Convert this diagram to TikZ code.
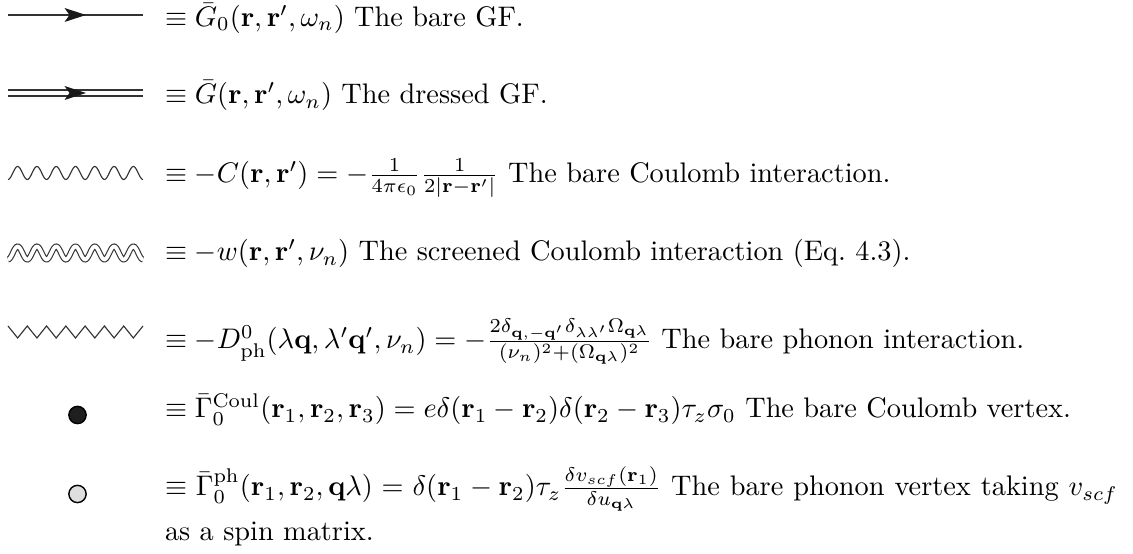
\documentclass[tikz,border=0pt]{standalone}
\usetikzlibrary{arrows.meta}
\begin{document}
\begin{tikzpicture}[x=0.35333pt, y=-0.35333pt,
  lbl/.style={anchor=base west, inner sep=0pt, outer sep=0pt},
  prop/.style={line width=0.4pt, draw=black!80},
  dprop/.style={line width=0.4pt, draw=black!80, double, double distance=1.75pt},
  arrowhead/.style={fill=black!90},
  vtx/.style={circle, draw, line width=0.5pt, inner sep=0pt, minimum size=6.1pt}
]
\useasboundingbox (0,0) rectangle (1133,554);

% row 1: bare GF
\coordinate (a1) at (8,15);
\coordinate (b1) at (143,15);
\draw[prop] (a1) -- (b1);
\fill[arrowhead, shift={(a1)}] (78,0) -- (56.5,-7) -- (61.5,0) -- (56.5,7) -- cycle;
\node[lbl] (t1) at (165,26.5) {$\equiv \bar{G}_0(\mathbf{r},\mathbf{r}',\omega_n)$ The bare GF.};

% row 2: dressed GF
\coordinate (a2) at (8,93);
\coordinate (b2) at (143,93);
\draw[dprop] (a2) -- (b2);
\fill[arrowhead, shift={(a2)}] (78,0) -- (56.5,-7) -- (61.5,0) -- (56.5,7) -- cycle;
\node[lbl] (t2) at (165,104) {$\equiv \bar{G}(\mathbf{r},\mathbf{r}',\omega_n)$ The dressed GF.};

% row 3: bare Coulomb
\draw[prop, domain=8:143, samples=160, smooth] plot (\x, {173 + 6.5*cos(18.6667*(\x-8))});
\node[lbl] (t3) at (165,183) {$\equiv -C(\mathbf{r},\mathbf{r}') = -\frac{1}{4\pi\epsilon_0}\frac{1}{2|\mathbf{r}-\mathbf{r}'|}$ The bare Coulomb interaction.};

% row 4: screened Coulomb
\draw[dprop, double distance=1.3pt, domain=8:143, samples=160, smooth] plot (\x, {253 + 6.5*cos(18.6667*(\x-8))});
\node[lbl] (t4) at (165,261) {$\equiv -w(\mathbf{r},\mathbf{r}',\nu_n)$ The screened Coulomb interaction (Eq.~4.3).};

% row 5: bare phonon
\draw[prop, line join=miter] (8,326) -- (17.64,338) -- (27.29,326) -- (36.93,338) -- (46.57,326)
  -- (56.21,338) -- (65.86,326) -- (75.5,338) -- (85.14,326) -- (94.79,338) -- (104.43,326)
  -- (114.07,338) -- (123.71,326) -- (133.36,338) -- (143,326);
\node[lbl] (t5) at (165,349) {$\equiv -D^0_{\mathrm{ph}}(\lambda\mathbf{q},\lambda'\mathbf{q}',\nu_n) = -\frac{2\delta_{\mathbf{q},-\mathbf{q}'}\delta_{\lambda\lambda'}\Omega_{\mathbf{q}\lambda}}{(\nu_n)^2+(\Omega_{\mathbf{q}\lambda})^2}$ The bare phonon interaction.};

% row 6: Coulomb vertex
\node[vtx, fill=black!88] (d1) at (77.5,415) {};
\node[lbl] (t6) at (165,418) {$\equiv \bar{\Gamma}^{\mathrm{Coul}}_0(\mathbf{r}_1,\mathbf{r}_2,\mathbf{r}_3) = e\delta(\mathbf{r}_1-\mathbf{r}_2)\delta(\mathbf{r}_2-\mathbf{r}_3)\tau_z\sigma_0$ The bare Coulomb vertex.};

% row 7: phonon vertex
\node[vtx, fill=black!13] (d2) at (77.5,494) {};
\node[lbl] (t7) at (165,496) {\makebox[336.7pt][s]{$\equiv \bar{\Gamma}^{\mathrm{ph}}_0(\mathbf{r}_1,\mathbf{r}_2,\mathbf{q}\lambda) = \delta(\mathbf{r}_1-\mathbf{r}_2)\tau_z\frac{\delta v_{scf}(\mathbf{r}_1)}{\delta u_{\mathbf{q}\lambda}}$ The bare phonon vertex taking $v_{scf}$}};
\node[lbl] (t8) at (165,541) {as a spin matrix.};
\end{tikzpicture}
\end{document}
